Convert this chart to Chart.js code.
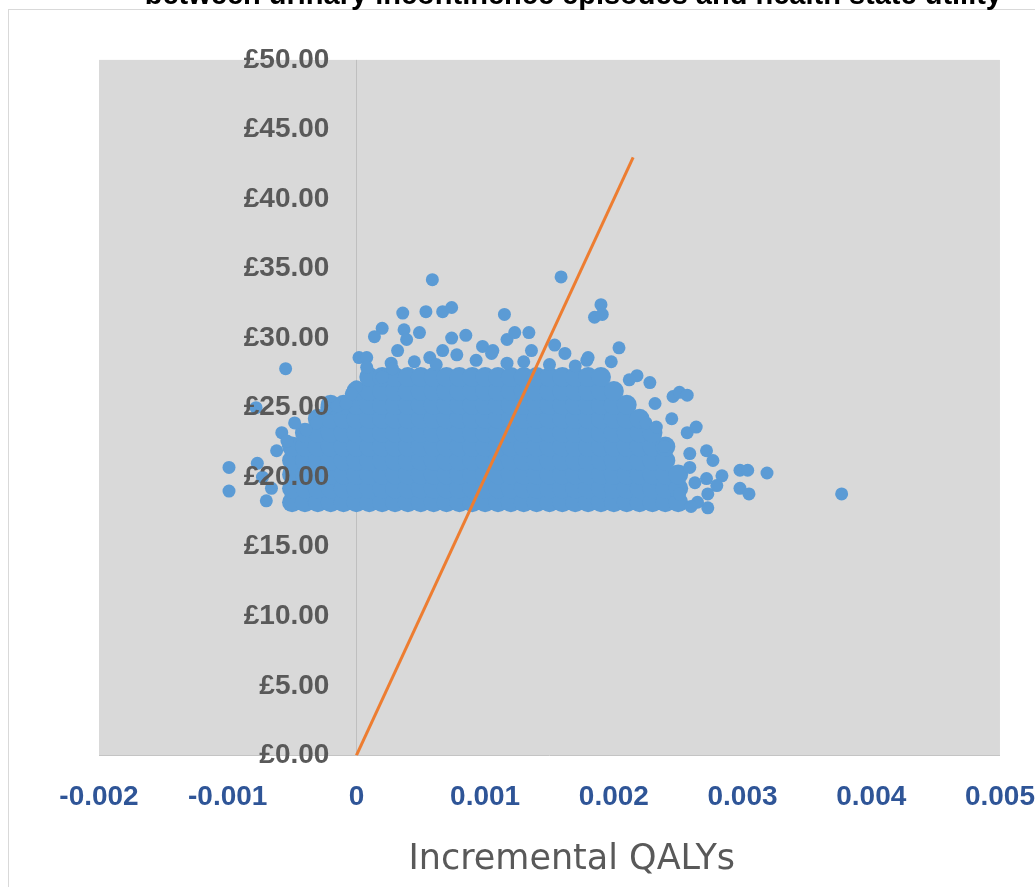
<!DOCTYPE html>
<html>
<head>
<meta charset="utf-8">
<script src="https://cdn.jsdelivr.net/npm/chart.js@4.4.1/dist/chart.umd.min.js"></script>
<style>
  html, body { margin: 0; padding: 0; background: #ffffff; overflow: hidden; }
  #frame { position: absolute; left: 8px; top: 9px; width: 1200px; height: 1000px; border: 1px solid #d9d9d9; }
  #wrap { position: absolute; left: 0; top: -20px; width: 1035px; height: 907px; }
</style>
</head>
<body>
<div id="frame"></div>
<div id="wrap"><canvas id="grafico" width="1035" height="907"></canvas></div>
<script>
// tick labels
const xTickLabels = ['-0.002', '-0.001', '0', '0.001', '0.002', '0.003', '0.004', '0.005'];
const yTickLabels = ['£0.00', '£5.00', '£10.00', '£15.00', '£20.00', '£25.00', '£30.00', '£35.00', '£40.00', '£45.00', '£50.00'];

// dense part of the cloud, read row by row (cost in £, incremental QALYs)
const cloudRowY = [18.2, 19.2, 20.2, 21.2, 22.2, 23.2, 24.2, 25.2, 26.2, 27.2];
const cloudRowX = [
    [-0.0005, -0.0004, -0.0003, -0.0002, -0.0001, 0, 0.0001, 0.0002, 0.0003, 0.0004, 0.0005, 0.0006, 0.0007, 0.0008, 0.0009, 0.0010, 0.0011, 0.0012, 0.0013, 0.0014, 0.0015, 0.0016, 0.0017, 0.0018, 0.0019, 0.0020, 0.0021, 0.0022, 0.0023, 0.0024, 0.0025],
    [-0.0005, -0.0004, -0.0003, -0.0002, -0.0001, 0, 0.0001, 0.0002, 0.0003, 0.0004, 0.0005, 0.0006, 0.0007, 0.0008, 0.0009, 0.0010, 0.0011, 0.0012, 0.0013, 0.0014, 0.0015, 0.0016, 0.0017, 0.0018, 0.0019, 0.0020, 0.0021, 0.0022, 0.0023, 0.0024, 0.0025],
    [-0.0005, -0.0004, -0.0003, -0.0002, -0.0001, 0, 0.0001, 0.0002, 0.0003, 0.0004, 0.0005, 0.0006, 0.0007, 0.0008, 0.0009, 0.0010, 0.0011, 0.0012, 0.0013, 0.0014, 0.0015, 0.0016, 0.0017, 0.0018, 0.0019, 0.0020, 0.0021, 0.0022, 0.0023, 0.0024, 0.0025],
    [-0.0005, -0.0004, -0.0003, -0.0002, -0.0001, 0, 0.0001, 0.0002, 0.0003, 0.0004, 0.0005, 0.0006, 0.0007, 0.0008, 0.0009, 0.0010, 0.0011, 0.0012, 0.0013, 0.0014, 0.0015, 0.0016, 0.0017, 0.0018, 0.0019, 0.0020, 0.0021, 0.0022, 0.0023, 0.0024],
    [-0.0005, -0.0004, -0.0003, -0.0002, -0.0001, 0, 0.0001, 0.0002, 0.0003, 0.0004, 0.0005, 0.0006, 0.0007, 0.0008, 0.0009, 0.0010, 0.0011, 0.0012, 0.0013, 0.0014, 0.0015, 0.0016, 0.0017, 0.0018, 0.0019, 0.0020, 0.0021, 0.0022, 0.0023, 0.0024],
    [-0.0004, -0.0003, -0.0002, -0.0001, 0, 0.0001, 0.0002, 0.0003, 0.0004, 0.0005, 0.0006, 0.0007, 0.0008, 0.0009, 0.0010, 0.0011, 0.0012, 0.0013, 0.0014, 0.0015, 0.0016, 0.0017, 0.0018, 0.0019, 0.0020, 0.0021, 0.0022, 0.0023],
    [-0.0003, -0.0002, -0.0001, 0, 0.0001, 0.0002, 0.0003, 0.0004, 0.0005, 0.0006, 0.0007, 0.0008, 0.0009, 0.0010, 0.0011, 0.0012, 0.0013, 0.0014, 0.0015, 0.0016, 0.0017, 0.0018, 0.0019, 0.0020, 0.0021, 0.0022],
    [-0.0002, -0.0001, 0, 0.0001, 0.0002, 0.0003, 0.0004, 0.0005, 0.0006, 0.0007, 0.0008, 0.0009, 0.0010, 0.0011, 0.0012, 0.0013, 0.0014, 0.0015, 0.0016, 0.0017, 0.0018, 0.0019, 0.0020, 0.0021],
    [0, 0.0001, 0.0002, 0.0003, 0.0004, 0.0005, 0.0006, 0.0007, 0.0008, 0.0009, 0.0010, 0.0011, 0.0012, 0.0013, 0.0014, 0.0015, 0.0016, 0.0017, 0.0018, 0.0019, 0.0020],
    [0.0001, 0.0002, 0.0003, 0.0004, 0.0005, 0.0006, 0.0007, 0.0008, 0.0009, 0.0010, 0.0011, 0.0012, 0.0013, 0.0014, 0.0015, 0.0016, 0.0017, 0.0018, 0.0019]
];

// scattered points round the edge of the cloud
const edgeX = [
    -0.00099, -0.00099, -0.00078, -0.00055, -0.00077, -0.00073, -0.00070, -0.00066, -0.00062, -0.00058,
    -0.00054, -0.00048, -0.00039, -0.00031, -0.00023, -0.00015, -0.00008, 0, -0.00004,
    0.00002, 0.00008, 0.00008, 0.00020, 0.00027, 0.00032, 0.00037, 0.00020, 0.00014, 0.00039,
    0.00049, 0.00057, 0.00059, 0.00036, 0.00054, 0.00067, 0.00074, 0.00067, 0.00074, 0.00085,
    0.00098, 0.00106, 0.00115, 0.00117, 0.00123, 0.00134, 0.00136, 0.00159, 0.00154, 0.00162,
    0.00179, 0.00190, 0.00185, 0.00191, 0.00204, 0.00198, 0.00218, 0.00078, 0.00105, 0.00117,
    0.00180, 0.00045, 0.00093, 0.00130, 0.00150, 0.00028, 0.00062, 0.00170,
    0.00212, 0.00228, 0.00232, 0.00246, 0.00251, 0.00257, 0.00245, 0.00225, 0.00233, 0.00257,
    0.00264, 0.00239, 0.00259, 0.00272, 0.00277, 0.00259, 0.00284, 0.00298, 0.00304, 0.00319,
    0.00272, 0.00280, 0.00298, 0.00305, 0.00273, 0.00273, 0.00251, 0.00263, 0.00377, 0.00265, 0.00260
];
const edgeY = [
    20.7, 19.0, 25.0, 27.8, 21.0, 20.0, 18.3, 19.2, 21.9, 23.2,
    22.6, 23.9, 23.4, 23.9, 25.0, 25.1, 25.3, 26.5, 26.0,
    28.6, 28.6, 27.9, 27.2, 28.2, 29.1, 30.6, 30.7, 30.1, 29.9,
    30.4, 28.6, 34.2, 31.8, 31.9, 31.9, 32.2, 29.1, 30.0, 30.2,
    29.4, 29.1, 31.7, 29.9, 30.4, 30.4, 29.1, 34.4, 29.5, 28.9,
    28.4, 32.4, 31.5, 31.7, 29.3, 28.3, 27.3, 28.8, 28.9, 28.2,
    28.6, 28.3, 28.4, 28.3, 28.1, 27.8, 28.1, 28.0,
    27.0, 26.8, 25.3, 25.8, 26.1, 25.9, 24.2, 23.9, 23.6, 23.2,
    23.6, 22.2, 21.7, 21.9, 21.2, 20.7, 20.1, 20.5, 20.5, 20.3,
    19.9, 19.4, 19.2, 18.8, 18.8, 17.8, 18.8, 19.6, 18.8, 18.2, 17.9
];

// willingness-to-pay threshold line (£20,000 per QALY)
const thresholdX = [0, 0.00215];
const thresholdY = [0, 43];

const cloudCore = [];
for (let i = 0; i < cloudRowY.length; i++) {
    for (let j = 0; j < cloudRowX[i].length; j++) {
        cloudCore.push({x: cloudRowX[i][j], y: cloudRowY[i]});
    }
}
const cloudEdge = edgeX.map((x, i) => ({x: x, y: edgeY[i]}));
const threshold = thresholdX.map((x, i) => ({x: x, y: thresholdY[i]}));

const fondoGris = {
    id: 'fondoGris',
    beforeDraw(chart) {
        const a = chart.chartArea;
        const c = chart.ctx;
        c.save();
        c.fillStyle = '#d9d9d9';
        c.fillRect(a.left, a.top, a.right - a.left, a.bottom - a.top);
        c.restore();
    }
};

const ctx = document.getElementById('grafico').getContext('2d');

new Chart(ctx, {
    type: 'scatter',
    data: {
        datasets: [
            {
                label: 'Threshold',
                data: threshold,
                showLine: true,
                borderColor: '#ed7d31',
                borderWidth: 3,
                pointRadius: 0,
                fill: false
            },
            {
                label: 'Simulations',
                data: cloudEdge,
                backgroundColor: '#5b9bd5',
                borderWidth: 0,
                pointRadius: 6.5
            },
            {
                label: 'Simulations (dense)',
                data: cloudCore,
                backgroundColor: '#5b9bd5',
                borderWidth: 0,
                pointRadius: 10
            }
        ]
    },
    options: {
        responsive: false,
        animation: false,
        layout: {
            padding: {left: 99, right: 33, top: 0, bottom: 0}
        },
        plugins: {
            legend: {display: false},
            tooltip: {enabled: false},
            title: {
                display: true,
                text: 'between urinary incontinence episodes and health state utility',
                align: 'end',
                color: '#000000',
                font: {family: 'Liberation Sans', size: 29, weight: 'bold', lineHeight: 1.1},
                padding: {top: 0, bottom: 48}
            }
        },
        scales: {
            x: {
                type: 'linear',
                position: 'bottom',
                min: -0.002,
                max: 0.005,
                grid: {
                    display: true,
                    drawTicks: true,
                    tickLength: 25,
                    tickColor: 'rgba(0,0,0,0)',
                    lineWidth: 1,
                    color: (c) => (c.tick && c.tick.value === 0) ? '#bfbfbf' : 'rgba(0,0,0,0)'
                },
                border: {display: true, color: '#c4c4c4', width: 1},
                ticks: {
                    stepSize: 0.001,
                    padding: 0,
                    color: '#2f5597',
                    font: {family: 'Liberation Sans', size: 28, weight: 'bold'},
                    callback: (value, index) => xTickLabels[index]
                },
                title: {
                    display: true,
                    text: '    Incremental QALYs',
                    color: '#595959',
                    font: {family: 'DejaVu Sans', size: 35},
                    padding: {top: 25, bottom: 6}
                }
            },
            y: {
                type: 'linear',
                // labels sit just left of the vertical axis at x = 0
                position: {x: -0.00021},
                min: 0,
                max: 50,
                grid: {display: false, drawTicks: false},
                border: {display: false},
                ticks: {
                    z: 1,
                    stepSize: 5,
                    padding: 0,
                    color: '#595959',
                    font: {family: 'Liberation Sans', size: 28, weight: 'bold'},
                    callback: (value, index) => yTickLabels[index]
                }
            }
        }
    },
    plugins: [fondoGris]
});
</script>
</body>
</html>
